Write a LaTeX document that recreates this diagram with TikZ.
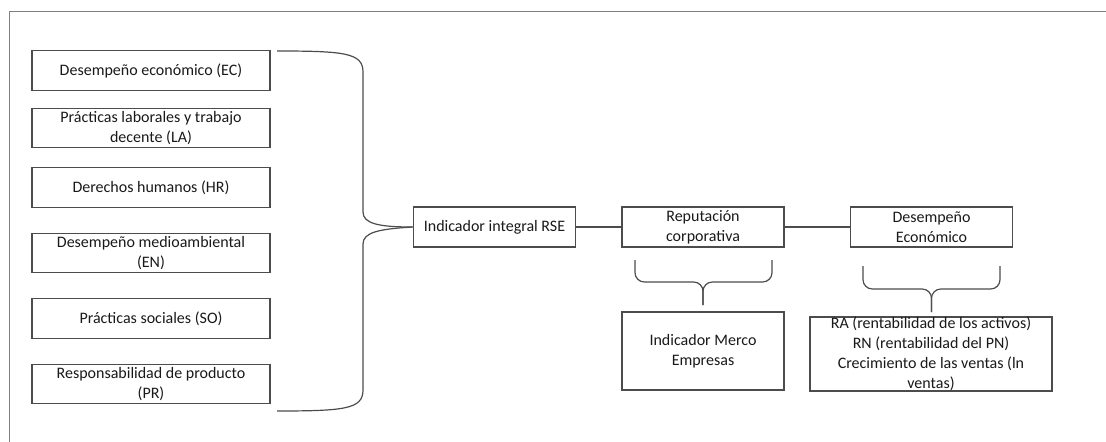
\documentclass[tikz,border=0pt]{standalone}
\usepackage{fontspec}
\setmainfont{Carlito}
\tikzset{
  caja/.style={draw=black!70, line width=0.9pt, align=center, inner sep=1pt,
    font=\fontsize{12}{15}\selectfont, text=black!90},
  llave/.style={draw=black!70, line width=0.9pt},
}
\begin{document}
\begin{tikzpicture}[x=0.75pt,y=-0.75pt]
  \useasboundingbox (0,0) rectangle (1106,442);
  \draw[black!50, line width=0.6pt] (9,442) -- (9,11) -- (1106,11);
  % dimensiones GRI
  \foreach \y/\n/\txt in {70.5/ec/{Desempeño económico (EC)},
      128/la/{Prácticas laborales y trabajo\\decente (LA)},
      187.5/hr/{Derechos humanos (HR)},
      253/en/{Desempeño medioambiental\\(EN)},
      318.5/so/{Prácticas sociales (SO)},
      384/pr/{Responsabilidad de producto\\(PR)}}
    \node[caja, minimum width=178.5pt, minimum height=29.5pt] (\n) at (151,\y) {\txt};
  \node[caja, minimum width=122pt, minimum height=30pt] (rse) at (494.5,227) {Indicador integral RSE};
  \node[caja, minimum width=121.5pt, minimum height=30pt] (rep) at (703,227) {Reputación\\corporativa};
  \node[caja, minimum width=122pt, minimum height=30pt] (de) at (931.5,227) {Desempeño\\Económico};
  \node[caja, minimum width=121.5pt, minimum height=58.5pt] (merco) at (703,351) {Indicador Merco\\Empresas};
  \node[caja, minimum width=181.5pt, minimum height=55.5pt] (ra) at (931,354) {};
  \node[caja, draw=none] (ratxt) at (ra.center) {RA (rentabilidad de los activos)\\RN (rentabilidad del PN)\\Crecimiento de las ventas (ln\\ventas)};
  \draw[llave] (rse) -- (rep);
  \draw[llave] (rep) -- (de);
  % llave grande
  \coordinate (arr) at (277,51);
  \coordinate (abj) at (277,411);
  \draw[llave] (arr) .. controls (345,51) and (363,53) .. (363,72) -- (363,212)
    .. controls (363,224) and (380,227) .. (rse.west);
  \draw[llave] (abj) .. controls (345,411) and (363,409) .. (363,390) -- (363,244)
    .. controls (363,232) and (380,229) .. (rse.west);
  % llaves chicas
  \coordinate (repT) at (703,305);
  \coordinate (deT) at (931.5,312);
  \draw[llave, rounded corners=7] (635,260) -- (635,282) -- (703,282) -- (repT);
  \draw[llave, rounded corners=7] (772,260) -- (772,282) -- (703,282) -- (repT);
  \draw[llave, rounded corners=7] (863,266) -- (863,289) -- (931.5,289) -- (deT);
  \draw[llave, rounded corners=7] (1000,266) -- (1000,289) -- (931.5,289) -- (deT);
\end{tikzpicture}
\end{document}
